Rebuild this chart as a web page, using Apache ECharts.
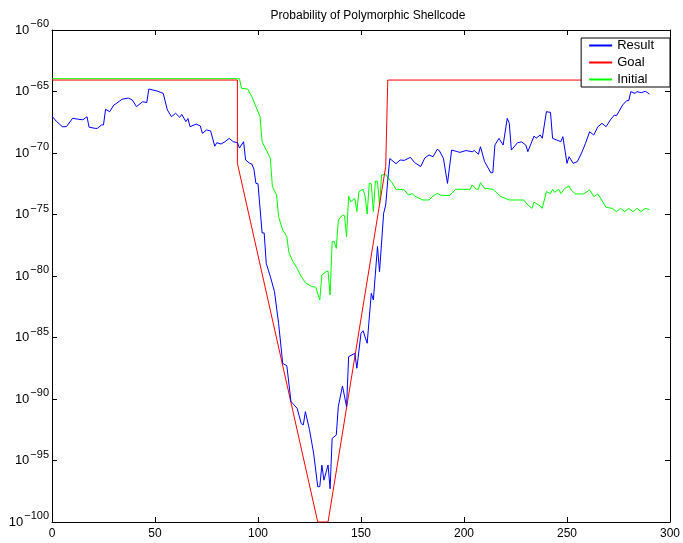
<!DOCTYPE html>
<html>
<head>
<meta charset="utf-8">
<script src="https://cdn.jsdelivr.net/npm/echarts@6/dist/echarts.min.js"></script>
<style>
html,body{margin:0;padding:0;background:#fff;}
#chart{width:683px;height:543px;}
</style>
</head>
<body>
<div id="chart"></div>
<script>
// Probabilities stored as log10 exponents (value v means 10^v)
const xTickValues = [0, 50, 100, 150, 200, 250, 300];
const yTickExponents = [-100, -95, -90, -85, -80, -75, -70, -65, -60];

const resultX = [0,2,5,7,10,13,15,17,18,21,22,24,25,26,28,30,31,34,37,39,41,44,46,47,51,54,56,58,60,62,63,65,66,67,70,72,73,75,77,79,80,82,84,86,88,90,91,93,94,96,97,98,99,100,102,103,104,106,108,110,112,114,116,119,121,122,123,125,127,129,130,131,132,134,135,136,138,139,141,143,144,147,148,150,151,153,155,156,158,159,161,162,163,164,167,169,171,174,176,179,181,183,185,187,188,190,192,194,197,198,201,204,205,207,208,210,213,214,215,217,219,221,222,223,226,228,230,231,234,235,237,238,240,242,243,247,248,250,251,253,255,257,259,261,263,265,267,269,271,273,274,277,279,280,281,283,284,286,288,290];
const resultExp = [-67.0,-67.4,-67.86,-67.86,-67.18,-67.26,-67.3,-67.05,-67.9,-68.0,-68.0,-67.72,-67.72,-66.45,-66.64,-66.1,-66.0,-65.63,-65.53,-65.69,-66.23,-65.83,-65.9,-64.8,-64.96,-65.15,-66.5,-67.05,-66.77,-67.1,-66.86,-67.45,-67.2,-67.86,-67.65,-67.8,-68.4,-68.13,-68.2,-69.45,-69.16,-69.27,-69.08,-68.81,-69.08,-69.16,-69.6,-69.08,-70.57,-70.84,-70.9,-71.3,-72.47,-72.5,-76.5,-76.5,-78.97,-80.05,-81.27,-83.85,-87.1,-87.3,-90.2,-90.76,-92.0,-92.1,-91.03,-92.5,-94.4,-97.13,-97.13,-95.37,-96.6,-95.37,-97.3,-93.2,-92.93,-90.6,-88.94,-90.62,-86.56,-86.29,-87.5,-84.66,-84.45,-85.47,-81.41,-81.95,-77.6,-79.65,-74.9,-74.23,-72.2,-70.45,-70.87,-70.57,-70.6,-70.35,-70.78,-71.1,-70.4,-70.16,-70.3,-69.7,-69.8,-70.43,-72.47,-69.76,-69.9,-69.95,-69.8,-69.9,-69.8,-70.1,-69.49,-70.7,-71.6,-71.6,-69.35,-68.81,-69.35,-67.18,-67.59,-69.76,-69.16,-69.1,-69.35,-69.89,-68.62,-68.8,-68.54,-68.8,-66.64,-66.7,-68.81,-69.08,-68.67,-70.84,-70.3,-70.84,-70.7,-70.03,-69.21,-68.27,-68.54,-67.86,-67.59,-67.86,-67.32,-66.91,-66.98,-66.1,-65.74,-65.74,-65.01,-65.15,-65.01,-65.1,-64.98,-65.2];

const goalX = [0,90,90,129,134,162,163,290];
const goalExp = [-64.07,-64.07,-70.84,-100,-100,-71.1,-64.07,-64.07];

const initialX = [0,90,91,92,95,97,99,101,102,104,106,107,109,110,112,114,115,117,119,121,123,126,128,130,131,133,134,135,136,137,138,139,141,142,143,144,145,147,148,149,151,152,153,154,155,156,157,158,159,160,162,164,165,167,169,171,173,175,176,180,183,185,187,189,193,196,203,204,206,207,208,210,214,218,222,229,231,233,234,237,238,240,242,243,244,246,247,249,251,252,254,258,261,263,265,269,272,274,276,278,280,282,284,286,288,290];
const initialExp = [-63.96,-63.96,-63.96,-64.74,-64.8,-65.42,-66.23,-67.05,-69.08,-69.76,-70.43,-72.74,-73.41,-75.18,-76.26,-76.8,-78.1,-78.84,-79.38,-80.05,-80.54,-80.86,-80.9,-81.95,-79.92,-79.65,-79.6,-81.54,-77.21,-77.2,-77.75,-75.45,-75.04,-75.1,-76.8,-73.5,-73.96,-73.7,-74.77,-73.14,-72.95,-73.5,-74.96,-72.47,-72.5,-74.77,-72.28,-72.3,-74.23,-71.79,-71.75,-72.2,-72.4,-72.95,-72.95,-73.0,-73.41,-73.3,-73.5,-73.82,-73.82,-73.5,-73.28,-73.45,-73.45,-72.95,-72.95,-72.6,-72.95,-72.95,-72.41,-72.87,-72.95,-73.55,-73.82,-73.82,-74.23,-74.5,-74.0,-74.3,-74.5,-73.14,-73.3,-72.95,-73.2,-72.95,-73.3,-72.87,-72.68,-73.0,-73.33,-73.33,-73.0,-73.55,-73.33,-74.42,-74.5,-74.77,-74.5,-74.77,-74.5,-74.77,-74.5,-74.77,-74.5,-74.6];

function pairs(xs, ys) { return xs.map((x, i) => [x, ys[i]]); }

const FONT = '"Liberation Sans", Arial, Helvetica, sans-serif';
const chart = echarts.init(document.getElementById('chart'), null, { renderer: 'canvas' });

const axisLineStyle = { show: true, onZero: false, lineStyle: { color: '#000', width: 1 } };
const tickStyle = { show: true, inside: true, length: 5, lineStyle: { color: '#000', width: 1 } };

chart.setOption({
  animation: false,
  backgroundColor: '#fff',
  title: {
    text: 'Probability of Polymorphic Shellcode',
    left: 363,
    top: 5,
    textAlign: 'center',
    textStyle: { fontFamily: FONT, fontSize: 12, fontWeight: 'normal', color: '#000' }
  },
  grid: { left: 52, right: 11, top: 30, bottom: 21, containLabel: false },
  legend: {
    data: ['Result', 'Goal', 'Initial'],
    orient: 'vertical',
    right: 13,
    top: 38,
    padding: [0, 16, 0, 8],
    itemGap: 2,
    icon: 'rect',
    itemWidth: 23,
    itemHeight: 2,
    itemTextGap: 8,
    borderColor: '#000',
    borderWidth: 1,
    borderRadius: 0,
    backgroundColor: '#fff',
    textStyle: { fontFamily: FONT, fontSize: 13, color: '#000', lineHeight: 15 }
  },
  xAxis: [
    {
      type: 'value', min: 0, max: 300, interval: 50, position: 'bottom',
      axisLine: axisLineStyle, axisTick: tickStyle,
      axisLabel: { color: '#000', fontFamily: FONT, fontSize: 12, margin: 6 },
      splitLine: { show: false }
    },
    {
      type: 'value', min: 0, max: 300, interval: 50, position: 'top',
      axisLine: axisLineStyle, axisTick: tickStyle,
      axisLabel: { show: false }, splitLine: { show: false }
    }
  ],
  yAxis: [
    {
      type: 'value', min: -100, max: -60, interval: 5, position: 'left',
      axisLine: axisLineStyle, axisTick: tickStyle,
      axisLabel: {
        margin: 3,
        padding: [0, 0, 5, 0],
        formatter: function (v) { return '{b|10}{s|\u2212' + Math.abs(v) + '}'; },
        rich: {
          b: { fontFamily: FONT, fontSize: 13, color: '#000', verticalAlign: 'bottom', lineHeight: 18 },
          s: { fontFamily: FONT, fontSize: 11, color: '#000', verticalAlign: 'top', lineHeight: 18, padding: [0, 0, 0, 1] }
        }
      },
      splitLine: { show: false }
    },
    {
      type: 'value', min: -100, max: -60, interval: 5, position: 'right',
      axisLine: axisLineStyle, axisTick: tickStyle,
      axisLabel: { show: false }, splitLine: { show: false }
    }
  ],
  series: [
    {
      name: 'Result', type: 'line', xAxisIndex: 0, yAxisIndex: 0,
      data: pairs(resultX, resultExp), symbol: 'none',
      lineStyle: { color: '#0000ff', width: 1 }, itemStyle: { color: '#0000ff' }, z: 4
    },
    {
      name: 'Goal', type: 'line', xAxisIndex: 0, yAxisIndex: 0,
      data: pairs(goalX, goalExp), symbol: 'none',
      lineStyle: { color: '#ff0000', width: 1 }, itemStyle: { color: '#ff0000' }, z: 3
    },
    {
      name: 'Initial', type: 'line', xAxisIndex: 0, yAxisIndex: 0,
      data: pairs(initialX, initialExp), symbol: 'none',
      lineStyle: { color: '#00ff00', width: 1 }, itemStyle: { color: '#00ff00' }, z: 2
    }
  ]
});
</script>
</body>
</html>
